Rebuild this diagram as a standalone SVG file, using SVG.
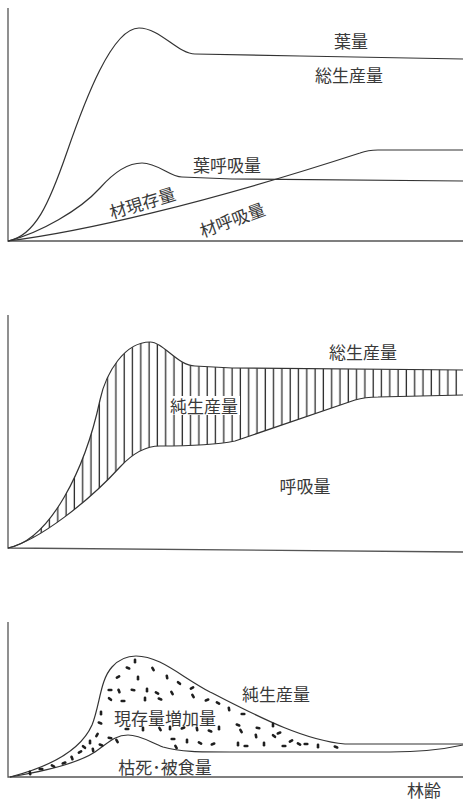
<svg xmlns="http://www.w3.org/2000/svg" width="463" height="801" viewBox="0 0 463 801">
<style>
.ax{fill:none;stroke:#555;stroke-width:1.3}
.c{fill:none;stroke:#333;stroke-width:1.2}
.t{font-family:"Noto Sans CJK JP","Noto Sans",sans-serif;font-size:17px;fill:#3a3a3a;text-anchor:middle;dominant-baseline:central}
</style>
<defs>
<pattern id="hatch" patternUnits="userSpaceOnUse" x="4" y="0" width="8.3" height="20">
<line x1="4" y1="0" x2="4" y2="20" stroke="#2a2a2a" stroke-width="1.3"/>
</pattern>
<clipPath id="band">
<path d="M8,548 C50,540 85,470 100,400 C106,372 125,342 150,342 C163,342 178,366 195,366 L232,368 L463,370 L463,395 L378,397 Q365,397 355,400 L235,441 C215,445 190,446 160,446 C145,446 132,454 120,467 C90,500 40,540 8,548 Z"/>
</clipPath>
<rect id="dash" x="-2.6" y="-1.3" width="5.2" height="2.6" rx="1.3" fill="#1e1e1e"/>
</defs>
<rect width="463" height="801" fill="#fff"/>

<!-- Top panel -->
<g id="panel-top">
<path class="ax" d="M8,8 V241 H463"/>
<g id="connectors-top">
<path id="curve-gross" class="c" d="M8,241 C35,236 49,204 67,152 C85,100 112,28 139,28 C160,28 178,54 195,54 L300,56 L463,59"/>
<path id="curve-stem" class="c" d="M8,241 C40,233 80,210 100,188 C115,171 128,163 142,163 C158,163 170,177 182,177 L232,179 L463,181"/>
<path id="curve-stemresp" class="c" d="M8,241 C80,232 200,205 360,153 Q368,150 378,150 L463,150"/>
</g>
<g id="label-leaf"><text class="t" x="351" y="40">葉量</text></g>
<g id="label-gross1"><text class="t" x="349" y="74">総生産量</text></g>
<g id="label-leafresp"><text class="t" x="227" y="164">葉呼吸量</text></g>
<g id="label-stem"><text class="t" transform="translate(142,202) rotate(-17)">材現存量</text></g>
<g id="label-stemresp"><text class="t" transform="translate(232,219) rotate(-20)">材呼吸量</text></g>
</g>

<!-- Middle panel -->
<g id="panel-mid">
<path class="ax" d="M8,315 V548 L463,552"/>
<rect x="0" y="330" width="463" height="230" fill="url(#hatch)" clip-path="url(#band)"/>
<g id="connectors-mid">
<path class="c" d="M8,548 C50,540 85,470 100,400 C106,372 125,342 150,342 C163,342 178,366 195,366 L232,368 L463,370"/>
<path class="c" d="M8,548 C40,540 90,500 120,467 C132,454 145,446 160,446 C190,446 215,445 235,441 L355,400 Q365,397 378,397 L463,395"/>
</g>
<g id="label-net1"><rect x="168" y="396" width="72" height="19" fill="#fff"/><text class="t" x="204" y="405">純生産量</text></g>
<g id="label-gross2"><text class="t" x="363" y="351">総生産量</text></g>
<g id="label-resp"><text class="t" x="305" y="485">呼吸量</text></g>
</g>

<!-- Bottom panel -->
<g id="panel-bot">
<path class="ax" d="M8,622 V777 H463"/>
<g id="connectors-bot">
<path class="c" d="M10,777 C45,768 80,752 92,725 C100,705 100,680 112,667 C120,658 128,656 136,656 C160,656 180,676 210,692 C250,712 300,740 345,744 L463,744"/>
<path class="c" d="M10,777 C40,772 75,765 95,752 C108,743 115,735 128,735 C140,735 150,742 163,747 C180,752 200,752 230,752 L390,752 C420,752 445,749 463,745"/>
</g>
<g id="dots">
<use href="#dash" transform="translate(135,661) rotate(90)"/>
<use href="#dash" transform="translate(128,668) rotate(20)"/>
<use href="#dash" transform="translate(153,669) rotate(60)"/>
<use href="#dash" transform="translate(118,677) rotate(-30)"/>
<use href="#dash" transform="translate(138,678) rotate(90)"/>
<use href="#dash" transform="translate(167,677) rotate(80)"/>
<use href="#dash" transform="translate(179,683) rotate(40)"/>
<use href="#dash" transform="translate(110,690) rotate(0)"/>
<use href="#dash" transform="translate(119,691) rotate(70)"/>
<use href="#dash" transform="translate(133,690) rotate(10)"/>
<use href="#dash" transform="translate(147,690) rotate(90)"/>
<use href="#dash" transform="translate(157,693) rotate(30)"/>
<use href="#dash" transform="translate(172,693) rotate(60)"/>
<use href="#dash" transform="translate(192,688) rotate(-30)"/>
<use href="#dash" transform="translate(110,699) rotate(40)"/>
<use href="#dash" transform="translate(123,701) rotate(0)"/>
<use href="#dash" transform="translate(145,699) rotate(90)"/>
<use href="#dash" transform="translate(160,699) rotate(20)"/>
<use href="#dash" transform="translate(193,696) rotate(60)"/>
<use href="#dash" transform="translate(207,700) rotate(-20)"/>
<use href="#dash" transform="translate(218,703) rotate(30)"/>
<use href="#dash" transform="translate(229,709) rotate(80)"/>
<use href="#dash" transform="translate(101,713) rotate(90)"/>
<use href="#dash" transform="translate(100,723) rotate(20)"/>
<use href="#dash" transform="translate(127,729) rotate(0)"/>
<use href="#dash" transform="translate(143,729) rotate(90)"/>
<use href="#dash" transform="translate(160,729) rotate(60)"/>
<use href="#dash" transform="translate(170,728) rotate(90)"/>
<use href="#dash" transform="translate(183,728) rotate(-20)"/>
<use href="#dash" transform="translate(197,729) rotate(80)"/>
<use href="#dash" transform="translate(210,731) rotate(20)"/>
<use href="#dash" transform="translate(219,728) rotate(90)"/>
<use href="#dash" transform="translate(97,735) rotate(-60)"/>
<use href="#dash" transform="translate(110,738) rotate(10)"/>
<use href="#dash" transform="translate(117,741) rotate(60)"/>
<use href="#dash" transform="translate(90,742) rotate(90)"/>
<use href="#dash" transform="translate(84,747) rotate(40)"/>
<use href="#dash" transform="translate(80,752) rotate(-30)"/>
<use href="#dash" transform="translate(93,750) rotate(80)"/>
<use href="#dash" transform="translate(101,745) rotate(20)"/>
<use href="#dash" transform="translate(173,739) rotate(0)"/>
<use href="#dash" transform="translate(187,741) rotate(90)"/>
<use href="#dash" transform="translate(200,743) rotate(30)"/>
<use href="#dash" transform="translate(213,744) rotate(-20)"/>
<use href="#dash" transform="translate(176,747) rotate(60)"/>
<use href="#dash" transform="translate(72,758) rotate(70)"/>
<use href="#dash" transform="translate(64,763) rotate(-20)"/>
<use href="#dash" transform="translate(53,766) rotate(30)"/>
<use href="#dash" transform="translate(41,769) rotate(0)"/>
<use href="#dash" transform="translate(30,773) rotate(80)"/>
<use href="#dash" transform="translate(243,714) rotate(0)"/>
<use href="#dash" transform="translate(238,725) rotate(20)"/>
<use href="#dash" transform="translate(241,731) rotate(60)"/>
<use href="#dash" transform="translate(258,728) rotate(10)"/>
<use href="#dash" transform="translate(256,736) rotate(80)"/>
<use href="#dash" transform="translate(273,725) rotate(90)"/>
<use href="#dash" transform="translate(274,736) rotate(40)"/>
<use href="#dash" transform="translate(279,733) rotate(-20)"/>
<use href="#dash" transform="translate(238,744) rotate(90)"/>
<use href="#dash" transform="translate(246,746) rotate(0)"/>
<use href="#dash" transform="translate(264,744) rotate(90)"/>
<use href="#dash" transform="translate(284,746) rotate(0)"/>
<use href="#dash" transform="translate(291,741) rotate(-30)"/>
<use href="#dash" transform="translate(299,744) rotate(30)"/>
<use href="#dash" transform="translate(306,744) rotate(0)"/>
<use href="#dash" transform="translate(318,746) rotate(90)"/>
<use href="#dash" transform="translate(336,747) rotate(20)"/>
</g>
<g id="label-increase"><text class="t" x="165" y="717">現存量増加量</text></g>
<g id="label-loss"><text class="t" x="165" y="766">枯死･被食量</text></g>
<g id="label-net2"><text class="t" x="276" y="693">純生産量</text></g>
<g id="label-age"><text class="t" x="424" y="789">林齢</text></g>
</g>
</svg>
